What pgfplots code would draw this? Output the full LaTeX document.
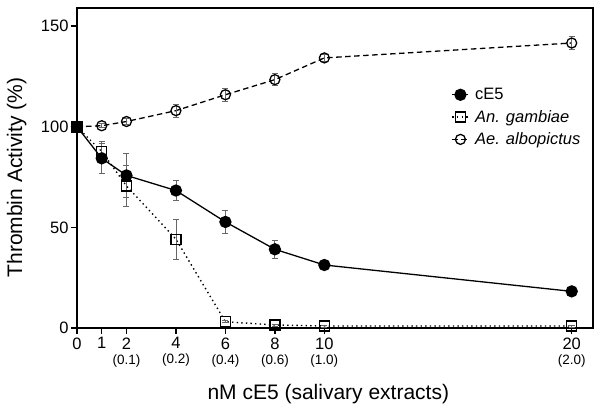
\documentclass[border=0pt]{standalone}
\usepackage{pgfplots}
\pgfplotsset{compat=1.18}
\usepackage{fontspec}
\setmainfont{Liberation Sans}
\begin{document}
\begin{tikzpicture}
\begin{axis}[
  width=516pt, height=320pt, scale only axis,
  xmin=0, xmax=20.86, ymin=0, ymax=159,
  xtick={0,1,2,4,6,8,10,20},
  xticklabels={0,1,{2\\[-3pt]{\fontsize{13.5}{15}\selectfont(0.1)}},{4\\[-3pt]{\fontsize{13.5}{15}\selectfont(0.2)}},{6\\[-3pt]{\fontsize{13.5}{15}\selectfont(0.4)}},{8\\[-3pt]{\fontsize{13.5}{15}\selectfont(0.6)}},{10\\[-3pt]{\fontsize{13.5}{15}\selectfont(1.0)}},{20\\[-3pt]{\fontsize{13.5}{15}\selectfont(2.0)}}},
  xticklabel style={align=center, anchor=north, yshift=0pt},
  ytick={0,50,100,150},
  xtick pos=bottom, ytick pos=left,
  tick align=outside,
  major tick length=6pt,
  tick style={black, line width=1.3pt},
  axis line style={line width=1.6pt},
  /pgf/number format/assume math mode=true,
  ticklabel style={font=\fontsize{16.5}{18}\selectfont},
  yticklabel style={xshift=1pt},
  xlabel={nM cE5 (salivary extracts)},
  ylabel={Thrombin Activity (\%)},
  label style={font=\fontsize{21}{24}\selectfont},
  xlabel style={at={(axis description cs:0.487,-0.205)}, anchor=center},
  ylabel style={at={(axis description cs:-0.117,0.47)}, anchor=center},
  legend style={draw=none, fill=none, at={(0.72,0.762)}, anchor=north west,
    font=\fontsize{16.5}{18}\selectfont, row sep=5pt, column sep=4pt},
  legend cell align=left,
  legend image code/.code={\draw[mark repeat=2,mark phase=2] plot coordinates {(0pt,0pt) (8pt,0pt) (16pt,0pt)};},
  clip=false,
]
% cE5
\addplot[black, line width=1.3pt, mark=*, mark size=5.5pt,
  error bars/.cd, y dir=both, y explicit,
  error bar style={gray!80!black, line width=0.8pt},
  error mark options={rotate=90, mark size=3pt, gray!80!black, line width=0.8pt}]
  table[x=x, y=y, y error=e] {
x y e
0 100 0
1 84.3 7.5
2 75.8 11
4 68.3 5
6 52.7 5.5
8 39.1 4.5
10 31.3 1
20 18.2 1
};
\addlegendentry{cE5}
% An. gambiae
\addplot[black, line width=1.4pt, dash pattern=on 1.4pt off 3.2pt, mark=square, mark size=5pt,
  mark options={solid, fill=white, line width=1.3pt},
  error bars/.cd, y dir=both, y explicit,
  error bar style={gray!80!black, line width=0.8pt, solid},
  error mark options={rotate=90, mark size=3pt, gray!80!black, line width=0.8pt}]
  table[x=x, y=y, y error=e] {
x y e
0 100 0
1 87.7 5
2 70.6 10
4 44.1 10
6 3.1 0.5
8 1.5 0.5
10 1.0 0.5
20 1.0 0.5
};
\addlegendentry{\itshape An. gambiae}
% Ae. albopictus
\addplot[black, line width=1.3pt, dash pattern=on 5.5pt off 3.5pt, mark=o, mark size=5pt,
  mark options={solid, fill=white, line width=1.3pt},
  error bars/.cd, y dir=both, y explicit,
  error bar style={gray!80!black, line width=0.8pt, solid},
  error mark options={rotate=90, mark size=3pt, gray!80!black, line width=0.8pt}]
  table[x=x, y=y, y error=e] {
x y e
0 100 0
1 100.5 1
2 102.6 1.5
4 108.0 3.3
6 115.9 3.3
8 123.4 3
10 134.2 1.5
20 141.6 3.3
};
\addlegendentry{\itshape Ae. albopictus}
% overlapping start point appears as a filled square
\addplot[forget plot, only marks, mark=square*, mark size=5.5pt, black] coordinates {(0,100)};
\end{axis}
\path (-77pt,-83pt) rectangle (525pt,328pt);
\end{tikzpicture}
\end{document}
